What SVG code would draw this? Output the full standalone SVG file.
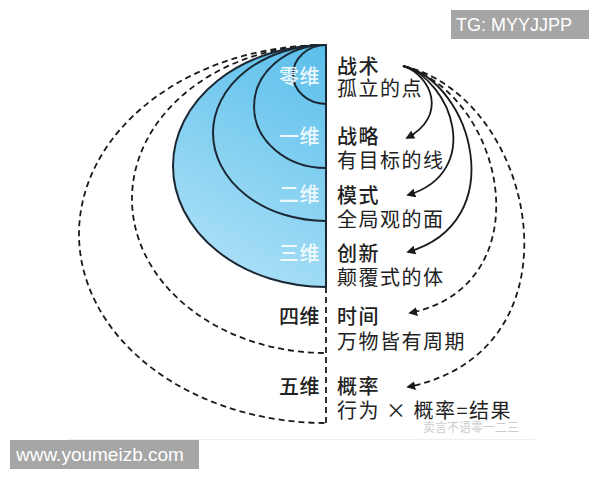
<svg xmlns="http://www.w3.org/2000/svg" width="600" height="480" viewBox="0 0 600 480">
<defs>
<style>
.cn{font-family:"Noto Sans CJK SC","Noto Sans",sans-serif;font-size:20px;letter-spacing:1.5px;fill:#222;}
.ttl{font-weight:500;}
.dim{text-anchor:end;font-weight:500;letter-spacing:0.5px;}
.wdim{fill:#ffffff;fill-opacity:0.88;}
.solid{fill:none;stroke:#1b2733;stroke-width:2;}
.dash{fill:none;stroke:#1a1a1a;stroke-width:1.8;stroke-dasharray:6 4;}
.arr{fill:none;stroke:#1a1a1a;stroke-width:1.8;marker-end:url(#ah);}
.arrd{fill:none;stroke:#1a1a1a;stroke-width:1.8;stroke-dasharray:6 4;marker-end:url(#ah);}
.wm{font-family:"Liberation Sans",Arial,sans-serif;fill:#ffffff;}
</style>
<linearGradient id="blue" gradientUnits="userSpaceOnUse" x1="326" y1="50" x2="205" y2="275">
<stop offset="0" stop-color="#5bbfeb"/>
<stop offset="1" stop-color="#aee1f7"/>
</linearGradient>
<marker id="ah" viewBox="0 0 10 10" refX="8" refY="5" markerWidth="5" markerHeight="5" orient="auto" markerUnits="strokeWidth">
<path d="M0,0 L10,5 L0,10 Z" fill="#1a1a1a"/>
</marker>
</defs>
<rect width="600" height="480" fill="#ffffff"/>
<line x1="69" y1="439.5" x2="535" y2="439.5" stroke="#eeeeee" stroke-width="1"/>

<g id="dim5">
<path class="dash" d="M326,45 A247,189 0 0 0 326,423"/>
<text class="cn dim" x="320" y="394">五维</text>
</g>
<g id="dim4">
<path class="dash" d="M326,45 A194,154 0 0 0 326,353"/>
<text class="cn dim" x="320" y="324">四维</text>
</g>
<g id="dim3">
<path d="M326,45 A153,121 0 0 0 326,287 Z" fill="url(#blue)"/>
<path class="solid" d="M326,45 A153,121 0 0 0 326,287"/>
<text class="cn dim wdim" x="320" y="261">三维</text>
</g>
<g id="dim2">
<path d="M326,45 A113,88 0 0 0 326,221 Z" fill="url(#blue)"/>
<path class="solid" d="M326,45 A113,88 0 0 0 326,221"/>
<text class="cn dim wdim" x="320" y="202">二维</text>
</g>
<g id="dim1">
<path d="M326,45 A72,61.5 0 0 0 326,168 Z" fill="url(#blue)"/>
<path class="solid" d="M326,45 A72,61.5 0 0 0 326,168"/>
<text class="cn dim wdim" x="320" y="144">一维</text>
</g>
<g id="dim0">
<path d="M326,45 A33,29.5 0 0 0 326,104 Z" fill="url(#blue)"/>
<path class="solid" d="M326,45 A33,29.5 0 0 0 326,104"/>
<text class="cn dim wdim" x="320" y="84">零维</text>
</g>

<g id="axis">
<line x1="326" y1="44" x2="326" y2="287" stroke="#1b2733" stroke-width="2"/>
<line x1="326" y1="287" x2="326" y2="423" stroke="#1a1a1a" stroke-width="1.8" stroke-dasharray="6 4"/>
</g>

<g id="connectors">
<path class="arr" d="M403,66 C432,76 448,116 407,138"/>
<path class="arr" d="M403,66 C452,80 484,172 408,195"/>
<path class="arr" d="M403,66 C472,82 512,222 408,252"/>
<path class="arrd" d="M403,66 C505,95 545,285 410,313"/>
<path class="arrd" d="M403,66 C535,95 590,350 408,387"/>
</g>

<g id="n-tactic">
<text class="cn ttl" x="337" y="74">战术</text>
<text class="cn" x="337" y="96">孤立的点</text>
</g>
<g id="n-strategy">
<text class="cn ttl" x="337" y="144">战略</text>
<text class="cn" x="337" y="168">有目标的线</text>
</g>
<g id="n-mode">
<text class="cn ttl" x="337" y="203">模式</text>
<text class="cn" x="337" y="227">全局观的面</text>
</g>
<g id="n-innovation">
<text class="cn ttl" x="337" y="261">创新</text>
<text class="cn" x="337" y="285">颠覆式的体</text>
</g>
<g id="n-time">
<text class="cn ttl" x="337" y="324">时间</text>
<text class="cn" x="337" y="349">万物皆有周期</text>
</g>
<g id="n-prob">
<text class="cn ttl" x="337" y="394">概率</text>
<text class="cn" x="337" y="418" letter-spacing="0">行为 × 概率=结果</text>
</g>

<g id="watermarks">
<text x="423" y="432" font-family="Noto Sans CJK SC,sans-serif" font-size="12" fill="#cccccc">卖言不语零一二三</text>
<rect x="451" y="10" width="138" height="29" fill="#a6a6a6"/>
<text class="wm" x="456" y="31" font-size="18">TG: MYYJJPP</text>
<rect x="10" y="440" width="189" height="29" fill="#a6a6a6"/>
<text class="wm" x="16" y="461" font-size="19">www.youmeizb.com</text>
</g>
</svg>
